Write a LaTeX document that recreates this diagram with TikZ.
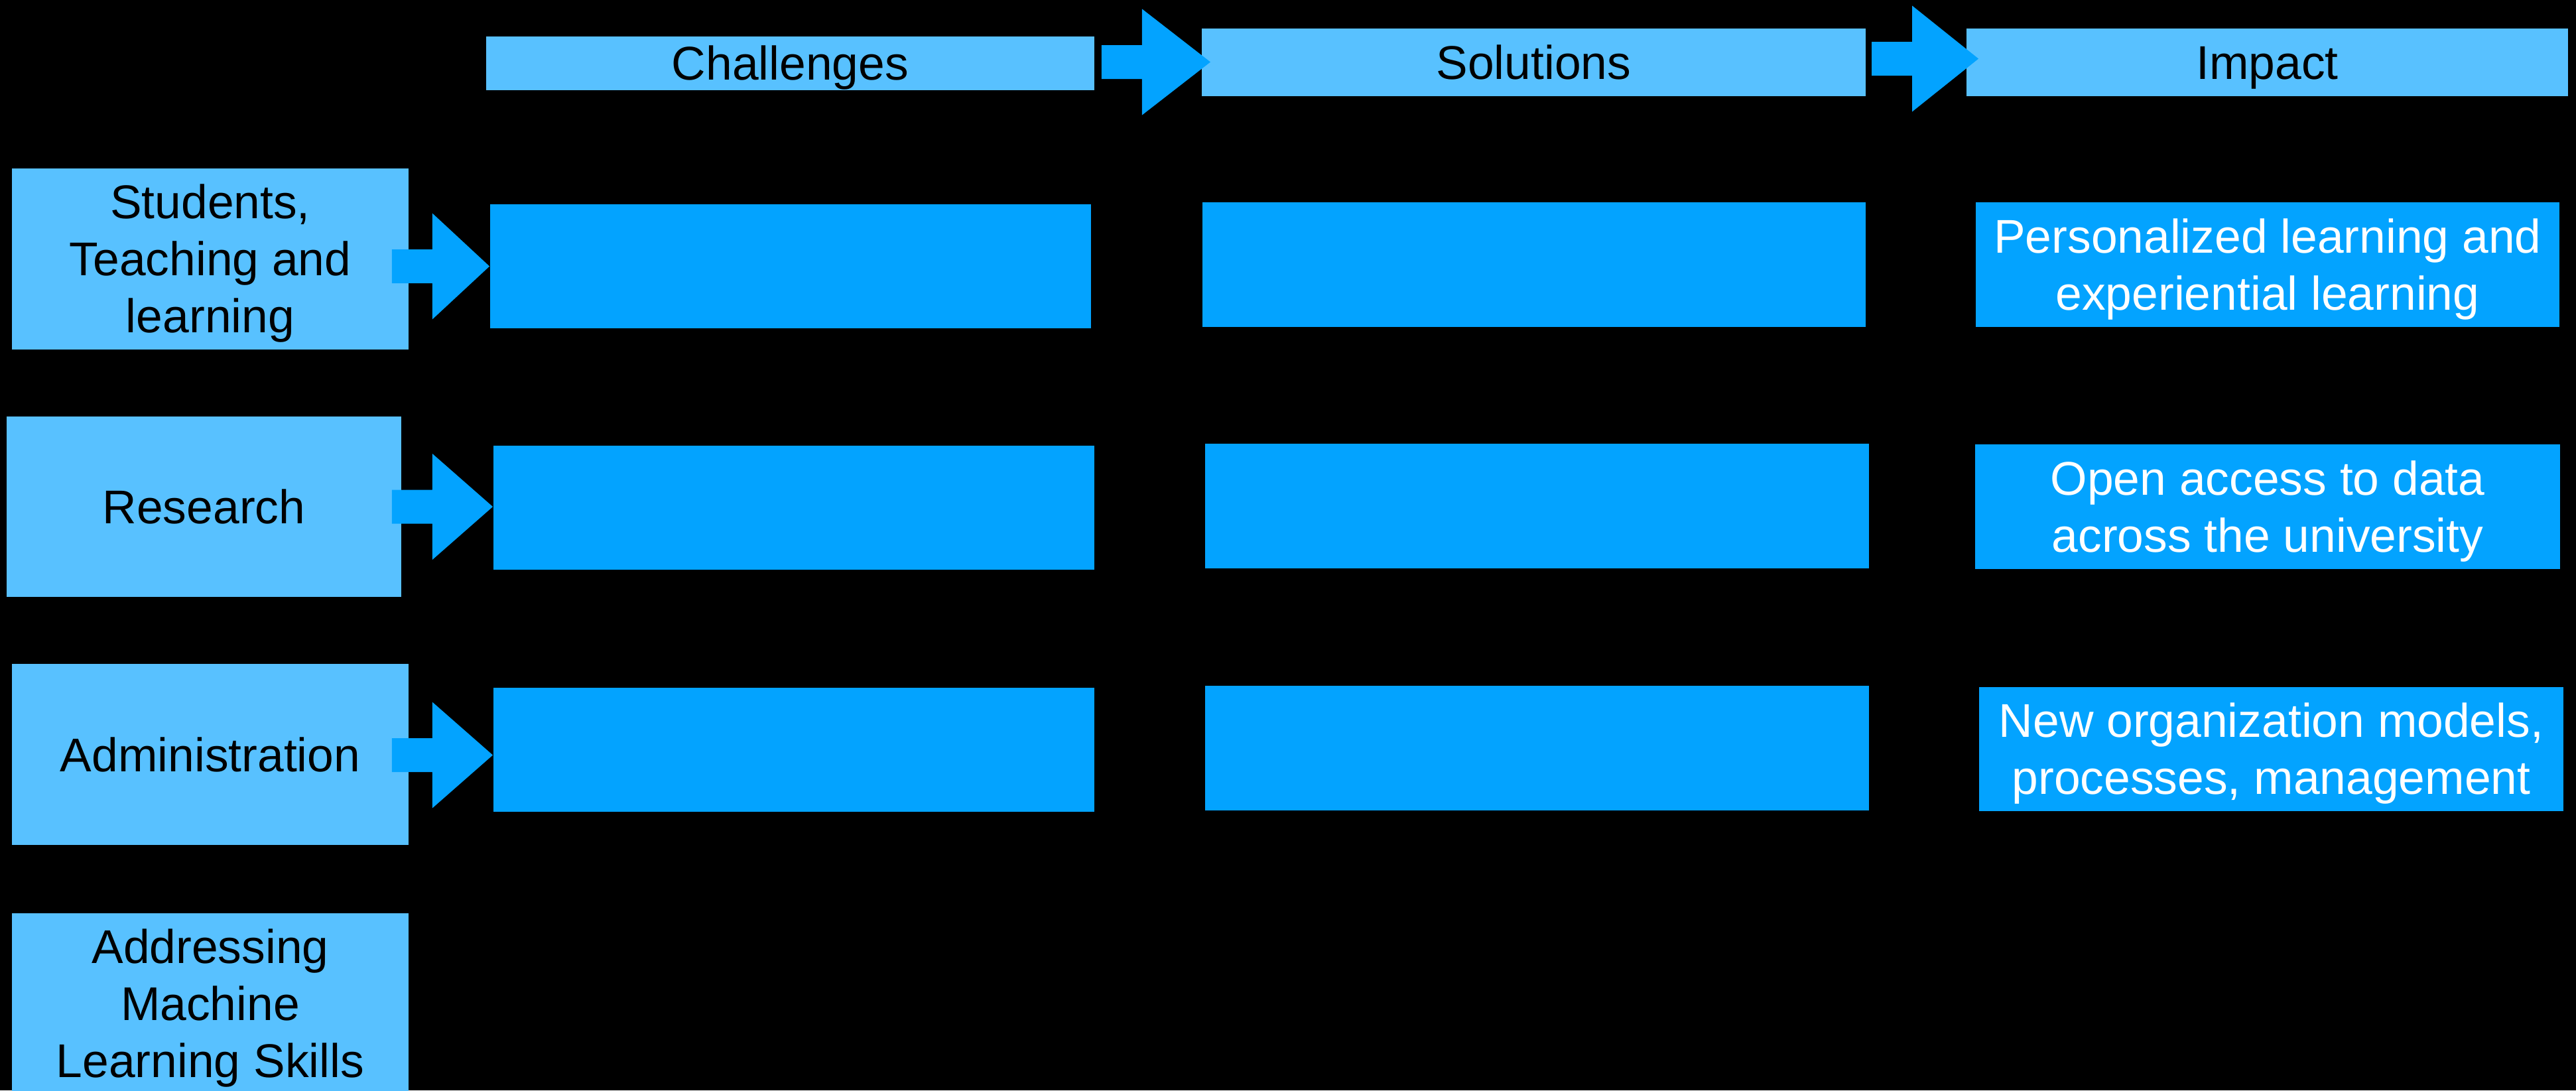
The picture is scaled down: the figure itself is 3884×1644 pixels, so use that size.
\documentclass[tikz,border=0pt]{standalone}
\usepackage{fontspec}
\setmainfont{Liberation Sans}
\usetikzlibrary{calc}
\definecolor{lightb}{RGB}{88,193,255}
\definecolor{darkb}{RGB}{3,163,255}
\newcommand{\ls}{\rule[-0.2em]{0pt}{1.115em}}
\newcommand{\blockarr}[5]{%
  \coordinate (tmpP) at ($(#1.east)+(#3,#5)$);
  \coordinate (tmpT) at ($(#2.west)+(#4,0)$);
  \fill[arrowfill] ($(tmpP)+(0,-25.5)$) -- ($(tmpP)+(61,-25.5)$) -- ($(tmpP)+(61,-80)$)
    -- (tmpT |- tmpP) -- ($(tmpP)+(61,80)$) -- ($(tmpP)+(61,25.5)$) -- ($(tmpP)+(0,25.5)$) -- cycle;}
\tikzset{
  base/.style={inner sep=0pt, align=center, font=\fontsize{20.3pt}{24.5pt}\selectfont},
  lightbox/.style={base, fill=lightb, text=black},
  darkbox/.style={base, fill=darkb, text=white},
  arrowfill/.style={fill=darkb, draw=none},
}
\begin{document}
\begin{tikzpicture}[x=0.01cm,y=-0.01cm]
\fill[black] (0,0) rectangle (3884,1644);
\useasboundingbox (0,0) rectangle (3884,1644);
% headers
\node[lightbox, minimum width=9.17cm, minimum height=0.81cm] (h1) at (1191.5,95.5) {\ls Challenges};
\node[lightbox, minimum width=10.01cm, minimum height=1.02cm] (h2) at (2312.5,94) {\ls Solutions};
\node[lightbox, minimum width=9.07cm, minimum height=1.02cm] (h3) at (3418.5,94) {\ls Impact};
% left boxes
\node[lightbox, minimum width=5.98cm, minimum height=2.73cm] (s1) at (317,390.5) {\ls Students,\\\ls Teaching and\\\ls learning};
\node[lightbox, minimum width=5.95cm, minimum height=2.72cm] (s2) at (307.5,764) {\ls Research};
\node[lightbox, minimum width=5.98cm, minimum height=2.73cm] (s3) at (317,1137.5) {\ls Administration};
\node[lightbox, minimum width=5.98cm, minimum height=2.73cm] (s4) at (317,1513.5) {\ls Addressing\\\ls Machine\\\ls Learning Skills};
% challenges
\node[darkbox, minimum width=9.06cm, minimum height=1.87cm] (c1) at (1192,401.5) {};
\node[darkbox, minimum width=9.06cm, minimum height=1.87cm] (c2) at (1197,765.5) {};
\node[darkbox, minimum width=9.06cm, minimum height=1.87cm] (c3) at (1197,1130.5) {};
% solutions
\node[darkbox, minimum width=10.00cm, minimum height=1.88cm] (o1) at (2313,399) {};
\node[darkbox, minimum width=10.01cm, minimum height=1.88cm] (o2) at (2317.5,763) {};
\node[darkbox, minimum width=10.01cm, minimum height=1.88cm] (o3) at (2317.5,1128) {};
% impact
\node[darkbox, minimum width=8.80cm, minimum height=1.88cm] (i1) at (3419,399) {\ls Personalized learning and\\\ls experiential learning};
\node[darkbox, minimum width=8.82cm, minimum height=1.88cm] (i2) at (3419,764) {\ls Open access to data\\\ls across the university};
\node[darkbox, minimum width=8.81cm, minimum height=1.87cm] (i3) at (3424.5,1129.5) {\ls New organization models,\\\ls processes, management};
% arrows
\blockarr{h1}{h2}{10}{14}{-2}
\blockarr{h2}{h3}{8}{19}{-5.5}
\blockarr{s1}{c1}{-26}{0}{11}
\blockarr{s2}{c2}{-15}{0}{0}
\blockarr{s3}{c3}{-26}{0}{1}
\end{tikzpicture}
\end{document}
